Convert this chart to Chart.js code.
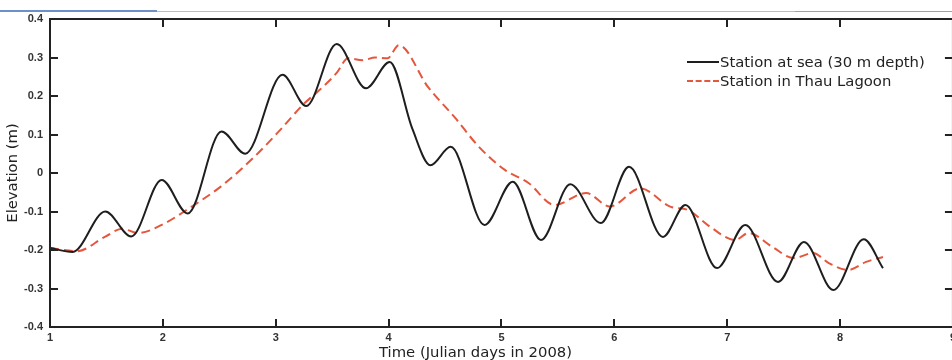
<!DOCTYPE html>
<html>
<head>
<meta charset="utf-8">
<script src="https://cdn.jsdelivr.net/npm/chart.js@4/dist/chart.umd.min.js"></script>
<style>
  html, body { margin: 0; padding: 0; background: #fff; overflow: hidden; }
  body { width: 952px; height: 360px; position: relative; }
  #wrap { position: absolute; left: 0; top: 0; width: 960px; height: 360px; }
  .rule { position: absolute; top: 10px; height: 2px; }
  #legend { position: absolute; left: 687px; top: 52px; font: 14.8px "DejaVu Sans", sans-serif; color: #222; }
  .lg-row { height: 19px; line-height: 19px; white-space: nowrap; display: flex; align-items: center; }
  .lg-swatch { width: 32px; height: 0; margin-right: 1px; }
  #xtitle { position: absolute; left: 379px; top: 343px; line-height: 17px; font: 14.8px "DejaVu Sans", sans-serif; color: #222; white-space: nowrap; }
</style>
</head>
<body>
<div class="rule" style="left:0;width:157px;background:#6f8fc9;"></div>
<div class="rule" style="left:157px;width:638px;height:1px;top:11px;background:#b9bccb;"></div>
<div class="rule" style="left:795px;width:157px;height:1px;top:11px;background:#8ea3cf;"></div>
<div id="wrap"><canvas id="chart"></canvas></div>
<div id="legend"></div>
<div id="xtitle"></div>
<script>
// sea station (30 m depth)
const seaDays = [1.00, 1.20, 1.49, 1.72, 1.99, 2.22, 2.52, 2.73, 3.06, 3.27, 3.54, 3.80, 4.01, 4.21, 4.37, 4.55, 4.85, 5.10,
                 5.35, 5.61, 5.88, 6.13, 6.43, 6.63, 6.91, 7.16, 7.45, 7.68, 7.94, 8.21, 8.38];
const seaElev = [-0.195, -0.205, -0.100, -0.165, -0.018, -0.105, 0.108, 0.050, 0.255, 0.174, 0.335, 0.220, 0.288, 0.115, 0.020, 0.068, -0.135, -0.023,
                 -0.174, -0.029, -0.130, 0.016, -0.166, -0.083, -0.247, -0.135, -0.283, -0.179, -0.304, -0.172, -0.247];

// Thau lagoon station
const lagoonDays = [1.00, 1.24, 1.49, 1.64, 1.78, 2.02, 2.22, 2.51, 2.80, 3.04, 3.24, 3.39, 3.54, 3.64, 3.77, 3.88, 3.99, 4.09,
                    4.35, 4.59, 4.80, 5.03, 5.24, 5.47, 5.75, 5.96, 6.23, 6.50, 6.65, 6.85, 7.07, 7.19, 7.40, 7.59, 7.76, 7.90,
                    8.07, 8.23, 8.38];
const lagoonElev = [-0.195, -0.203, -0.165, -0.145, -0.156, -0.130, -0.094, -0.036, 0.039, 0.112, 0.177, 0.216, 0.260, 0.298, 0.293, 0.300, 0.298, 0.332,
                    0.223, 0.143, 0.068, 0.008, -0.026, -0.083, -0.052, -0.087, -0.040, -0.088, -0.096, -0.140, -0.174, -0.156, -0.192, -0.221, -0.208, -0.234,
                    -0.252, -0.231, -0.218];

const seriesLabels = ['Station at sea (30 m depth)', 'Station in Thau Lagoon'];
const xTitle = 'Time (Julian days in 2008)';
const yTitle = 'Elevation (m)';

const toPoints = (xs, ys) => xs.map((d, i) => ({ x: d, y: ys[i] }));

// matlab-like box with inward ticks on all four sides
const boxTicks = {
    id: 'boxTicks',
    afterDraw(chart) {
        const { ctx, chartArea: a, scales: { x, y } } = chart;
        const len = 8;
        ctx.save();
        ctx.strokeStyle = '#222';
        ctx.lineWidth = 2;
        ctx.beginPath();
        x.ticks.forEach(t => {
            const px = Math.round(x.getPixelForValue(t.value));
            ctx.moveTo(px, a.top); ctx.lineTo(px, a.top + len);
            ctx.moveTo(px, a.bottom); ctx.lineTo(px, a.bottom - len);
        });
        y.ticks.forEach(t => {
            const py = Math.round(y.getPixelForValue(t.value));
            ctx.moveTo(a.left, py); ctx.lineTo(a.left + len, py);
            ctx.moveTo(a.right, py); ctx.lineTo(a.right - len, py);
        });
        ctx.stroke();
        ctx.strokeRect(a.left, a.top, a.right - a.left, a.bottom - a.top);
        ctx.restore();
    }
};

const tickFont = { family: '"Liberation Sans", Arial, sans-serif', size: 11, weight: 'bold' };
const titleFont = { family: '"DejaVu Sans", sans-serif', size: 14.8 };

const chart = new Chart(document.getElementById('chart'), {
    type: 'line',
    data: {
        datasets: [
            {
                label: seriesLabels[0],
                data: toPoints(seaDays, seaElev),
                borderColor: '#1e1e1e',
                borderWidth: 2,
                pointRadius: 0,
                cubicInterpolationMode: 'monotone',
                fill: false
            },
            {
                label: seriesLabels[1],
                data: toPoints(lagoonDays, lagoonElev),
                borderColor: '#e5573d',
                borderWidth: 2,
                borderDash: [9, 5],
                pointRadius: 0,
                cubicInterpolationMode: 'monotone',
                fill: false
            }
        ]
    },
    options: {
        responsive: true,
        maintainAspectRatio: false,
        animation: false,
        devicePixelRatio: 1,
        layout: { padding: { top: 19, right: 5, left: 0, bottom: 0 } },
        plugins: { legend: { display: false }, tooltip: { enabled: false } },
        scales: {
            x: {
                type: 'linear',
                min: 1, max: 9,
                grid: { display: false, drawTicks: false },
                border: { display: false },
                ticks: { stepSize: 1, color: '#333', font: tickFont, padding: 4 },
                afterFit: s => { s.height = 33; }
            },
            y: {
                min: -0.4, max: 0.4,
                grid: { display: false, drawTicks: false },
                border: { display: false },
                ticks: {
                    stepSize: 0.1, color: '#333', font: tickFont, padding: 7,
                    callback: v => String(Number(v.toFixed(1)))
                },
                title: { display: true, text: yTitle, color: '#222', font: titleFont, padding: { top: 4, bottom: 0 } },
                afterFit: s => { s.width = 50; }
            }
        }
    },
    plugins: [boxTicks]
});

// x title sits left of the axis centre in the original figure
document.getElementById('xtitle').textContent = xTitle;

// html legend from the datasets
document.getElementById('legend').innerHTML = chart.data.datasets.map(ds => `
    <div class="lg-row">
        <span class="lg-swatch" style="border-top: 2px ${ds.borderDash ? 'dashed' : 'solid'} ${ds.borderColor};"></span>${ds.label}
    </div>`).join('');
</script>
</body>
</html>
